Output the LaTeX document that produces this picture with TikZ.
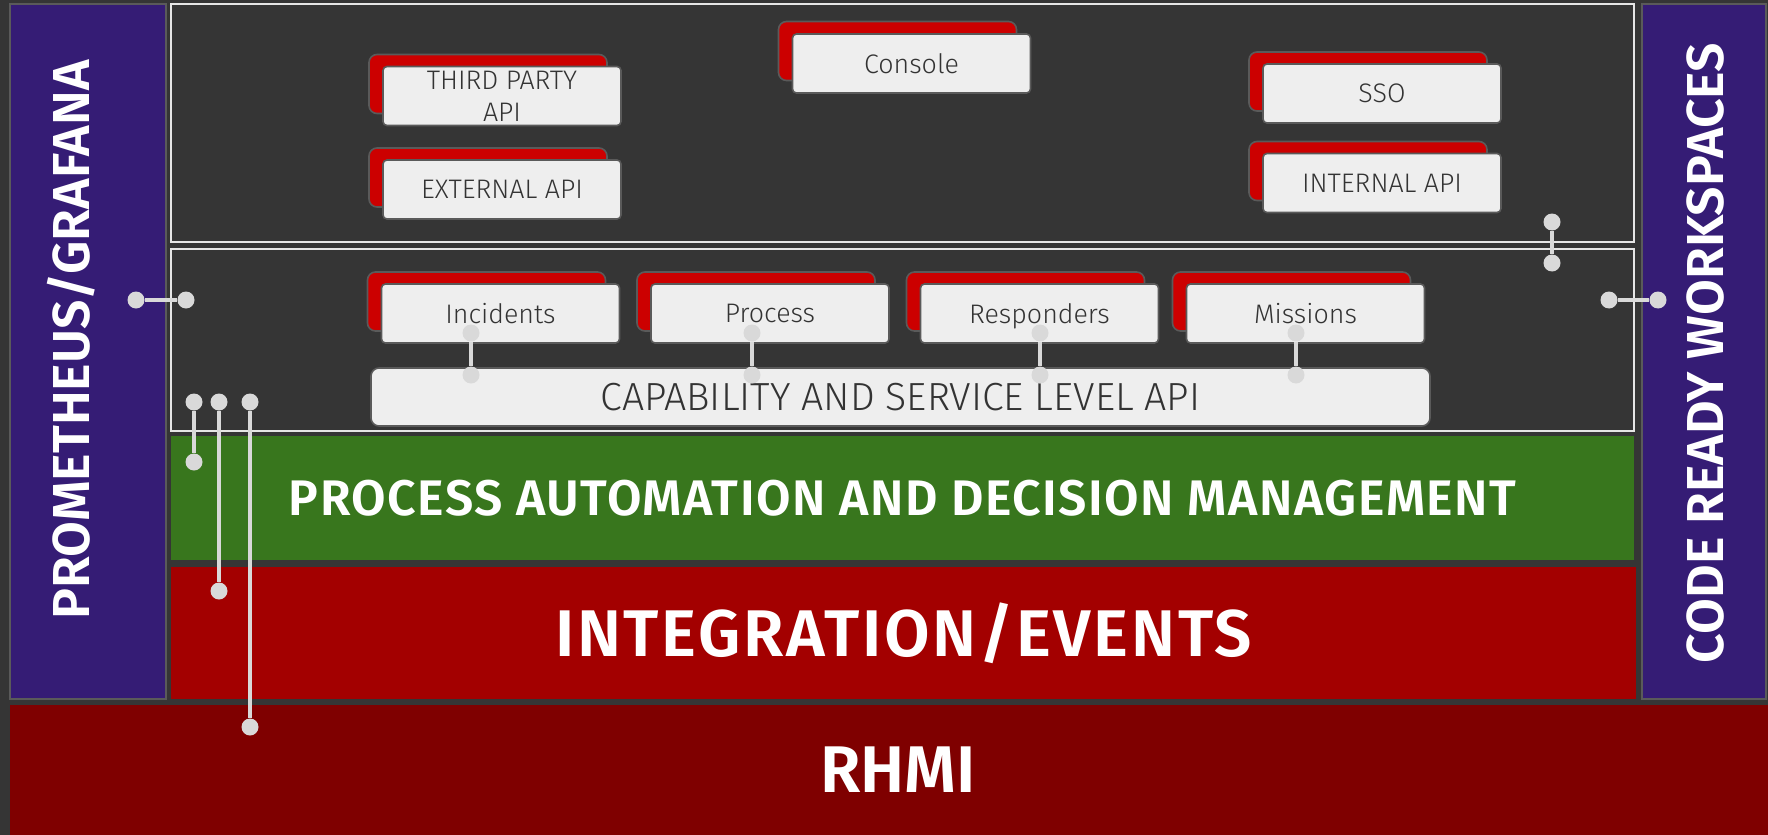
\documentclass[tikz,border=0pt]{standalone}
\usepackage{fontspec}
\setmainfont{Fira Sans}
\newfontfamily\thinfont{Fira Sans Light}
\newfontfamily\boldfont{Fira Sans SemiBold}
\definecolor{bgdark}{HTML}{353535}
\definecolor{rhpurple}{HTML}{351C75}
\definecolor{rhgreen}{HTML}{38761D}
\definecolor{rhred}{HTML}{A30000}
\definecolor{rhmaroon}{HTML}{7F0000}
\definecolor{cardred}{HTML}{CC0000}
\definecolor{cardgray}{HTML}{EEEEEE}
\definecolor{cardtext}{HTML}{333333}
\definecolor{edgegray}{HTML}{5A5A5A}
\definecolor{panelline}{HTML}{E6E6E6}
\definecolor{plugray}{HTML}{D9D9D9}

\begin{document}
\begin{tikzpicture}[x=0.5pt,y=-0.5pt]
\tikzstyle{bar}=[rectangle, inner sep=0pt, text=white]
\tikzstyle{side}=[bar, fill=rhpurple, draw=edgegray, line width=1pt, minimum height=347.5pt]
\tikzstyle{sidetext}=[rotate=90, text=white, inner sep=0pt, font=\boldfont\fontsize{26}{30}\selectfont]
\tikzstyle{panel}=[rectangle, fill=bgdark, draw=panelline, line width=1pt, minimum width=731.5pt]
\tikzstyle{card}=[
	rectangle,
	rounded corners=2pt,
	fill=cardgray,
	draw=edgegray,
	line width=0.8pt,
	minimum width=119pt,
	minimum height=29.5pt,
	inner sep=0pt,
	align=center,
	text=cardtext,
	font=\thinfont\fontsize{13.4}{16}\selectfont ]
\tikzstyle{cardback}=[rectangle, rounded corners=4pt, fill=cardred, draw=edgegray, line width=0.8pt, minimum width=119pt, minimum height=29.5pt]
\tikzstyle{dot}=[circle, fill=plugray, inner sep=0pt, minimum size=8.5pt]
\tikzstyle{plug}=[draw=plugray, line width=1.75pt]
\useasboundingbox (0,0) rectangle (1768,835);
\fill[bgdark] (0,0) rectangle (1768,835);
\node[bar, fill=rhmaroon, minimum width=888pt, minimum height=65pt, font=\boldfont\fontsize{33}{40}\selectfont] (rhmi) at (898,770) {RHMI};
\node[bar, fill=rhred, minimum width=732.5pt, minimum height=66pt, font=\boldfont\fontsize{33}{40}\selectfont\addfontfeature{LetterSpace=4}] (events) at (903.5,633) {INTEGRATION/EVENTS};
\node[bar, fill=rhgreen, minimum width=731.5pt, minimum height=62pt, font=\boldfont\fontsize{25}{30}\selectfont\addfontfeature{LetterSpace=3}] (pam) at (902.5,498) {PROCESS AUTOMATION AND DECISION MANAGEMENT};
\node[side, minimum width=78pt] (prom) at (88,351.5) {};
\node[side, minimum width=62pt] (crw) at (1704,351.5) {};
\node[sidetext] (promlabel) at (71,340) {PROMETHEUS/GRAFANA};
\node[sidetext] (crwlabel) at (1705,353) {CODE READY WORKSPACES};
\node[panel, minimum height=119pt] (edge) at (902.5,123) {};
\node[panel, minimum height=91pt] (core) at (902.5,340) {};

\node[cardback] (thirdback) at (488,84) {};
\node[card] (third) at (502,96) {THIRD PARTY\\API};
\node[cardback] (extback) at (488,177.5) {};
\node[card] (ext) at (502,189.5) {EXTERNAL API};
\node[cardback] (consoleback) at (897.5,51) {};
\node[card] (console) at (911.5,63.5) {Console};
\node[cardback] (ssoback) at (1368,81.5) {};
\node[card] (sso) at (1382,93.5) {SSO};
\node[cardback] (intback) at (1368,171) {};
\node[card] (int) at (1382,183) {INTERNAL API};

\node[cardback] (incback) at (486.5,301.5) {};
\node[card] (inc) at (500.5,313.5) {Incidents};
\node[cardback] (procback) at (756,301.5) {};
\node[card] (proc) at (770,313.5) {Process};
\node[cardback] (respback) at (1025.5,301.5) {};
\node[card, text depth=0pt] (resp) at (1039.5,313.5) {Responders};
\node[cardback] (missback) at (1291.5,301.5) {};
\node[card] (miss) at (1305.5,313.5) {Missions};
\node[card, rounded corners=4pt, minimum width=529.5pt, minimum height=29pt, font=\thinfont\fontsize{19.6}{24}\selectfont] (capapi) at (900.5,397) {CAPABILITY AND SERVICE LEVEL API};

\node[dot] (inc-a) at (471,333) {};
\node[dot] (inc-b) at (471,375) {};
\node[dot] (proc-a) at (752,333) {};
\node[dot] (proc-b) at (752,375) {};
\node[dot] (resp-a) at (1040,333) {};
\node[dot] (resp-b) at (1040,375) {};
\node[dot] (miss-a) at (1296,333) {};
\node[dot] (miss-b) at (1296,375) {};
\node[dot] (prom-a) at (136,300) {};
\node[dot] (prom-b) at (186,300) {};
\node[dot] (crw-a) at (1609,300) {};
\node[dot] (crw-b) at (1658,300) {};
\node[dot] (edge-a) at (1552,222) {};
\node[dot] (edge-b) at (1552,263) {};
\node[dot] (pam-a) at (194,402) {};
\node[dot] (pam-b) at (194,462) {};
\node[dot] (events-a) at (219,402) {};
\node[dot] (events-b) at (219,591) {};
\node[dot] (rhmi-a) at (250,402) {};
\node[dot] (rhmi-b) at (250,727) {};
\draw[plug] (inc-a) -- (inc-b);
\draw[plug] (proc-a) -- (proc-b);
\draw[plug] (resp-a) -- (resp-b);
\draw[plug] (miss-a) -- (miss-b);
\draw[plug] (prom-a) -- (prom-b);
\draw[plug] (crw-a) -- (crw-b);
\draw[plug] (edge-a) -- (edge-b);
\draw[plug] (pam-a) -- (pam-b);
\draw[plug] (events-a) -- (events-b);
\draw[plug] (rhmi-a) -- (rhmi-b);
\end{tikzpicture}
\end{document}
